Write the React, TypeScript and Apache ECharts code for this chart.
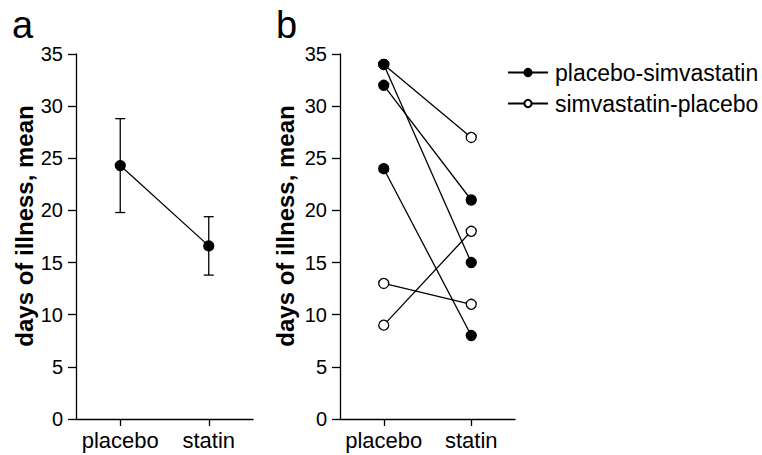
import React, { useEffect, useRef } from "react";
import * as echarts from "echarts";

const categories = ["placebo", "statin"];

// Panel a: means and error bar bounds
const meanValues = [24.3, 16.6];
const errLow = [19.8, 13.8];
const errHigh = [28.8, 19.4];

// Panel b: individual patients [placebo, statin]
const placeboSimvastatin = [
  [34, 15],
  [32, 21],
  [24, 8],
];
const simvastatinPlacebo = [
  [34, 27],
  [13, 11],
  [9, 18],
];

const yTitle = "days of illness, mean";
const FONT = "'Liberation Sans', Arial, Helvetica, sans-serif";

export default function App() {
  const ref = useRef<HTMLDivElement>(null);
  useEffect(() => {
    if (!ref.current) return;
    const chart = echarts.init(ref.current, null, { renderer: "svg" });

    const axisLine = { show: true, lineStyle: { color: "#000", width: 1.3 } };
    const makeX = (gridIndex: number) => ({
      type: "category",
      gridIndex,
      data: categories,
      boundaryGap: true,
      axisLine,
      axisTick: { show: true, alignWithLabel: true, length: 7, lineStyle: { color: "#000", width: 1.3 } },
      axisLabel: { color: "#000", fontSize: 22, fontFamily: FONT, margin: 10, interval: 0 },
      splitLine: { show: false },
    });
    const makeY = (gridIndex: number) => ({
      type: "value",
      gridIndex,
      min: 0,
      max: 35,
      interval: 5,
      axisLine,
      axisTick: { show: true, length: 8, lineStyle: { color: "#000", width: 1.3 } },
      axisLabel: { color: "#000", fontSize: 20, fontFamily: FONT, margin: 13 },
      splitLine: { show: false },
    });

    const filledStyle = { color: "#000", borderColor: "#000", borderWidth: 1.3 };
    const openStyle = { color: "#fff", borderColor: "#000", borderWidth: 1.3 };

    const series: any[] = [];
    series.push({
      type: "custom",
      xAxisIndex: 0,
      yAxisIndex: 0,
      data: categories.map((_, i) => [i, errLow[i], errHigh[i]]),
      renderItem: (params: any, api: any) => {
        const lo = api.coord([api.value(0), api.value(1)]);
        const hi = api.coord([api.value(0), api.value(2)]);
        const w = 5;
        const style = { stroke: "#000", lineWidth: 1.3 };
        return {
          type: "group",
          children: [
            { type: "line", shape: { x1: lo[0], y1: lo[1], x2: hi[0], y2: hi[1] }, style },
            { type: "line", shape: { x1: lo[0] - w, y1: lo[1], x2: lo[0] + w, y2: lo[1] }, style },
            { type: "line", shape: { x1: hi[0] - w, y1: hi[1], x2: hi[0] + w, y2: hi[1] }, style },
          ],
        };
      },
      z: 2,
    });
    series.push({
      type: "line",
      xAxisIndex: 0,
      yAxisIndex: 0,
      data: meanValues,
      symbol: "circle",
      symbolSize: 10,
      lineStyle: { color: "#000", width: 1.3 },
      itemStyle: filledStyle,
      z: 3,
    });
    simvastatinPlacebo.forEach((d) => {
      series.push({
        type: "line",
        name: "simvastatin-placebo",
        xAxisIndex: 1,
        yAxisIndex: 1,
        data: d,
        symbol: "circle",
        symbolSize: 10,
        showAllSymbol: true,
        lineStyle: { color: "#000", width: 1.3 },
        itemStyle: openStyle,
        z: 2,
      });
    });
    placeboSimvastatin.forEach((d) => {
      series.push({
        type: "line",
        name: "placebo-simvastatin",
        xAxisIndex: 1,
        yAxisIndex: 1,
        data: d,
        symbol: "circle",
        symbolSize: 10,
        showAllSymbol: true,
        lineStyle: { color: "#000", width: 1.3 },
        itemStyle: filledStyle,
        z: 3,
      });
    });

    const titleStyle = { text: yTitle, fontSize: 24, fontWeight: "bold", fontFamily: FONT, fill: "#000", textAlign: "center", textVerticalAlign: "middle" };

    chart.setOption({
      animation: false,
      backgroundColor: "#fff",
      textStyle: { fontFamily: FONT },
      grid: [
        { left: 76, top: 54, width: 177, height: 365 },
        { left: 340, top: 54, width: 175, height: 365 },
      ],
      xAxis: [makeX(0), makeX(1)],
      yAxis: [makeY(0), makeY(1)],
      legend: {
        orient: "vertical",
        left: 502,
        top: 56,
        itemGap: 8,
        itemWidth: 40,
        itemHeight: 9,
        data: ["placebo-simvastatin", "simvastatin-placebo"],
        textStyle: { color: "#000", fontSize: 23, fontFamily: FONT, padding: [0, 0, 0, 2] },
        selectedMode: false,
      },
      graphic: [
        { type: "text", left: 12, top: 6, style: { text: "a", fontSize: 38, fontFamily: FONT, fill: "#000" } },
        { type: "text", left: 276, top: 6, style: { text: "b", fontSize: 38, fontFamily: FONT, fill: "#000" } },
        { type: "text", x: 24, y: 226, rotation: Math.PI / 2, style: titleStyle },
        { type: "text", x: 285, y: 226, rotation: Math.PI / 2, style: titleStyle },
      ],
      series,
    });
    return () => chart.dispose();
  }, []);
  return (
    <div
      ref={ref}
      style={{ position: "fixed", left: 0, top: 0, width: 762, height: 455, background: "#fff" }}
    />
  );
}
